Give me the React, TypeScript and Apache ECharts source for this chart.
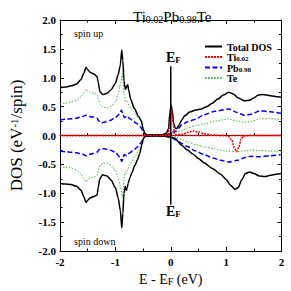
import React, { useEffect, useRef } from 'react';
import * as echarts from 'echarts';

// [E - EF (eV), DOS]
const totalUp = [[-2,0.83],[-1.9,0.84],[-1.8,0.86],[-1.7,0.89],[-1.62,0.97],[-1.57,1.08],[-1.53,1.18],[-1.5,1.14],[-1.45,1.09],[-1.38,1.06],[-1.33,1.02],[-1.31,0.92],[-1.28,0.76],[-1.23,0.71],[-1.15,0.73],[-1.08,0.79],[-1.0,0.9],[-0.95,1.05],[-0.91,1.22],[-0.885,1.48],[-0.865,1.3],[-0.845,0.95],[-0.82,0.8],[-0.79,0.86],[-0.775,0.88],[-0.76,0.78],[-0.72,0.62],[-0.66,0.47],[-0.58,0.33],[-0.53,0.25],[-0.5,0.12],[-0.47,0.04],[-0.44,0.015],[-0.3,0.01],[-0.15,0.015],[-0.08,0.04],[-0.04,0.12],[-0.015,0.4],[0.005,0.53],[0.025,0.45],[0.05,0.22],[0.08,0.13],[0.11,0.12],[0.15,0.18],[0.2,0.27],[0.25,0.34],[0.35,0.41],[0.45,0.44],[0.55,0.46],[0.65,0.5],[0.75,0.56],[0.85,0.63],[0.95,0.7],[1.05,0.75],[1.13,0.72],[1.22,0.65],[1.33,0.6],[1.42,0.61],[1.5,0.65],[1.58,0.7],[1.66,0.71],[1.8,0.69],[1.94,0.67],[2.0,0.66]];
const teUp = [[-2,0.55],[-1.9,0.56],[-1.8,0.58],[-1.7,0.61],[-1.62,0.67],[-1.57,0.74],[-1.53,0.8],[-1.5,0.77],[-1.45,0.74],[-1.38,0.73],[-1.33,0.71],[-1.31,0.63],[-1.28,0.54],[-1.22,0.49],[-1.15,0.48],[-1.08,0.51],[-1.0,0.58],[-0.95,0.72],[-0.91,0.88],[-0.875,1.07],[-0.86,0.95],[-0.84,0.7],[-0.82,0.6],[-0.79,0.6],[-0.775,0.58],[-0.76,0.53],[-0.72,0.47],[-0.66,0.4],[-0.58,0.3],[-0.53,0.23],[-0.5,0.1],[-0.47,0.03],[-0.44,0.01],[-0.2,0.005],[-0.05,0.02],[0.0,0.03],[0.05,0.04],[0.1,0.05],[0.2,0.09],[0.3,0.13],[0.45,0.17],[0.6,0.2],[0.8,0.25],[1.05,0.29],[1.2,0.25],[1.35,0.23],[1.45,0.24],[1.6,0.29],[1.8,0.29],[2.0,0.28]];
const pbUp = [[-2,0.27],[-1.9,0.28],[-1.8,0.29],[-1.7,0.3],[-1.6,0.33],[-1.53,0.35],[-1.48,0.33],[-1.4,0.32],[-1.33,0.3],[-1.3,0.25],[-1.26,0.22],[-1.2,0.23],[-1.1,0.26],[-1.0,0.31],[-0.95,0.35],[-0.91,0.4],[-0.89,0.44],[-0.86,0.36],[-0.84,0.31],[-0.8,0.33],[-0.78,0.34],[-0.75,0.3],[-0.7,0.27],[-0.62,0.21],[-0.55,0.15],[-0.5,0.08],[-0.47,0.03],[-0.44,0.01],[-0.2,0.005],[-0.05,0.02],[0.0,0.04],[0.05,0.06],[0.1,0.08],[0.2,0.18],[0.3,0.24],[0.45,0.28],[0.6,0.36],[0.8,0.42],[1.05,0.46],[1.2,0.4],[1.33,0.35],[1.45,0.37],[1.62,0.43],[1.8,0.41],[2.0,0.38]];
const tiUp = [[-2,0],[-0.1,0],[-0.05,0.01],[-0.02,0.15],[0.0,0.4],[0.02,0.42],[0.045,0.2],[0.07,0.03],[0.1,0.01],[0.2,0.02],[0.3,0.05],[0.4,0.08],[0.5,0.06],[0.6,0.03],[0.75,0.01],[0.9,0],[2,0]];

const totalDown = [[-2,-0.83],[-1.9,-0.84],[-1.8,-0.85],[-1.7,-0.88],[-1.62,-0.95],[-1.57,-1.06],[-1.53,-1.16],[-1.5,-1.12],[-1.45,-1.08],[-1.38,-1.05],[-1.33,-1.03],[-1.31,-0.9],[-1.28,-0.75],[-1.23,-0.68],[-1.15,-0.7],[-1.08,-0.77],[-1.0,-0.9],[-0.95,-1.08],[-0.91,-1.3],[-0.885,-1.6],[-0.865,-1.35],[-0.845,-1.0],[-0.82,-0.88],[-0.8,-0.95],[-0.785,-0.9],[-0.77,-0.83],[-0.74,-0.74],[-0.7,-0.64],[-0.65,-0.52],[-0.6,-0.42],[-0.56,-0.31],[-0.52,-0.15],[-0.49,-0.04],[-0.46,-0.015],[-0.3,-0.01],[-0.1,-0.015],[0.0,-0.03],[0.1,-0.08],[0.2,-0.17],[0.3,-0.25],[0.4,-0.32],[0.5,-0.4],[0.6,-0.47],[0.75,-0.57],[0.9,-0.67],[1.0,-0.76],[1.08,-0.86],[1.16,-0.93],[1.22,-0.9],[1.28,-0.77],[1.35,-0.66],[1.42,-0.63],[1.5,-0.66],[1.6,-0.7],[1.7,-0.71],[1.8,-0.69],[1.9,-0.67],[2.0,-0.66]];
const teDown = [[-2,-0.54],[-1.9,-0.55],[-1.8,-0.56],[-1.7,-0.6],[-1.62,-0.67],[-1.57,-0.75],[-1.53,-0.8],[-1.5,-0.77],[-1.45,-0.73],[-1.38,-0.71],[-1.33,-0.69],[-1.31,-0.6],[-1.28,-0.52],[-1.22,-0.48],[-1.15,-0.48],[-1.08,-0.52],[-1.0,-0.6],[-0.95,-0.72],[-0.91,-0.88],[-0.875,-1.08],[-0.86,-0.95],[-0.84,-0.72],[-0.82,-0.62],[-0.8,-0.66],[-0.78,-0.6],[-0.74,-0.5],[-0.7,-0.45],[-0.64,-0.35],[-0.58,-0.26],[-0.54,-0.18],[-0.5,-0.06],[-0.47,-0.02],[-0.44,-0.01],[-0.2,-0.005],[0.0,-0.01],[0.1,-0.03],[0.2,-0.07],[0.3,-0.11],[0.45,-0.16],[0.6,-0.2],[0.8,-0.23],[1.0,-0.27],[1.2,-0.28],[1.45,-0.25],[1.6,-0.26],[1.8,-0.27],[2.0,-0.27]];
const pbDown = [[-2,-0.27],[-1.9,-0.28],[-1.8,-0.29],[-1.7,-0.3],[-1.6,-0.32],[-1.53,-0.35],[-1.48,-0.33],[-1.4,-0.31],[-1.33,-0.29],[-1.3,-0.25],[-1.26,-0.23],[-1.2,-0.23],[-1.1,-0.25],[-1.0,-0.29],[-0.95,-0.34],[-0.91,-0.4],[-0.885,-0.45],[-0.86,-0.38],[-0.84,-0.33],[-0.8,-0.35],[-0.78,-0.33],[-0.74,-0.3],[-0.68,-0.26],[-0.6,-0.2],[-0.55,-0.14],[-0.5,-0.07],[-0.47,-0.02],[-0.44,-0.01],[-0.2,-0.01],[-0.05,-0.02],[0.05,-0.04],[0.1,-0.06],[0.2,-0.14],[0.3,-0.19],[0.45,-0.27],[0.6,-0.33],[0.76,-0.39],[0.9,-0.43],[1.05,-0.46],[1.2,-0.43],[1.35,-0.38],[1.45,-0.36],[1.6,-0.37],[1.8,-0.35],[2.0,-0.33]];
const tiDown = [[-2,0],[1.0,0],[1.05,-0.02],[1.1,-0.08],[1.15,-0.22],[1.19,-0.28],[1.23,-0.2],[1.27,-0.06],[1.32,-0.01],[1.4,0],[2,0]];

const fermiLine = [[0,-1.2],[0,1.2]];
const seriesNames = ['Total DOS', 'Ti0.02', 'Pb0.98', 'Te'];
const legendLabels: Record<string, string> = {
  'Total DOS': '{a|Total DOS}',
  'Ti0.02': '{a|Ti}{s|0.02}',
  'Pb0.98': '{a|Pb}{s|0.98}',
  'Te': '{a|Te}',
};

export default function App() {
  const ref = useRef<HTMLDivElement>(null);
  useEffect(() => {
    const chart = echarts.init(ref.current!, null, { renderer: 'svg' });
    const serif = '"Liberation Serif", "Times New Roman", serif';
    const mk = (name: string, data: number[][], color: string, width: number, type: any, z: number) => ({
      name, type: 'line', data, symbol: 'none', showSymbol: false,
      smooth: 0.25, smoothMonotone: 'x',
      lineStyle: { color, width, type }, itemStyle: { color }, z,
      xAxisIndex: 0, yAxisIndex: 0,
    });
    const black = '#000000', red = '#ff0000', blue = '#0000ff', green = '#3cb83c';
    const tickCommon = {
      axisLine: { show: true, onZero: false, lineStyle: { color: '#000', width: 1 } },
      axisTick: { show: true, inside: true, length: 4, lineStyle: { color: '#000', width: 1 } },
      minorTick: { show: true, splitNumber: 2, length: 2.5, lineStyle: { color: '#000', width: 1 } },
      splitLine: { show: false },
    };
    const labelStyle = { color: '#000', fontFamily: serif, fontWeight: 'bold', fontSize: 11 };
    chart.setOption({
      animation: false,
      backgroundColor: '#fff',
      title: {
        text: '{a|Ti}{s|0.02}{a|Pb}{s|0.98}{a|Te}',
        left: 128, top: 1,
        textStyle: {
          fontWeight: 'normal',
          rich: {
            a: { fontFamily: serif, fontWeight: 'normal', fontSize: 15, color: '#000', lineHeight: 18, verticalAlign: 'bottom' },
            s: { fontFamily: serif, fontWeight: 'normal', fontSize: 10, color: '#000', lineHeight: 9, verticalAlign: 'bottom' },
          },
        },
      },
      grid: { left: 50.5, right: 9.5, top: 20, bottom: 31, containLabel: false },
      legend: {
        data: seriesNames, orient: 'vertical', left: 199, top: 37,
        itemWidth: 17, itemHeight: 8, itemGap: 0.5,
        itemStyle: { opacity: 0 },
        formatter: (n: string) => legendLabels[n] || n,
        textStyle: {
          color: '#000',
          rich: {
            a: { fontFamily: serif, fontWeight: 'bold', fontSize: 10, color: '#000', lineHeight: 11, verticalAlign: 'bottom' },
            s: { fontFamily: serif, fontWeight: 'bold', fontSize: 7, color: '#000', lineHeight: 6, verticalAlign: 'bottom' },
          },
        },
      },
      xAxis: [
        {
          type: 'value', min: -2, max: 2, interval: 1, position: 'bottom', ...tickCommon,
          axisLabel: { ...labelStyle, margin: 5 },
          name: '{a|E - E}{s|F}{a| (eV)}', nameLocation: 'middle', nameGap: 19,
          nameTextStyle: {
            rich: {
              a: { fontFamily: serif, fontSize: 14, color: '#000', lineHeight: 16, verticalAlign: 'bottom' },
              s: { fontFamily: serif, fontSize: 10, color: '#000', lineHeight: 8, verticalAlign: 'bottom' },
            },
          },
        },
        { type: 'value', min: -2, max: 2, interval: 1, position: 'top', ...tickCommon, axisLabel: { show: false } },
        {
          type: 'value', min: -2, max: 2, interval: 1, position: 'bottom',
          axisLine: { show: true, onZero: true, lineStyle: { color: '#000', width: 1 } },
          axisTick: { show: true, inside: true, length: 2.5, lineStyle: { color: '#000' } },
          minorTick: { show: true, splitNumber: 2, length: 2.5, lineStyle: { color: '#000' } },
          splitLine: { show: false }, axisLabel: { show: false },
        },
      ],
      yAxis: [
        {
          type: 'value', min: -2, max: 2, interval: 0.5, position: 'left', ...tickCommon,
          axisLabel: { ...labelStyle, margin: 4, formatter: (v: number) => v.toFixed(1) },
          name: '{a|DOS (eV}{p|-1}{a|/spin)}', nameLocation: 'middle', nameGap: 32,
          nameTextStyle: {
            rich: {
              a: { fontFamily: serif, fontSize: 17, color: '#000', lineHeight: 20, verticalAlign: 'top' },
              p: { fontFamily: serif, fontSize: 11, color: '#000', lineHeight: 12, verticalAlign: 'top' },
            },
          },
        },
        { type: 'value', min: -2, max: 2, interval: 0.5, position: 'right', ...tickCommon, axisLabel: { show: false } },
      ],
      series: [
        mk('Te', teUp, green, 1, [1.5, 1.5], 2),
        mk('Te', teDown, green, 1, [1.5, 1.5], 2),
        mk('Pb0.98', pbUp, blue, 1.5, [5, 2.5], 3),
        mk('Pb0.98', pbDown, blue, 1.5, [5, 2.5], 3),
        mk('Total DOS', totalUp, black, 1.5, 'solid', 4),
        mk('Total DOS', totalDown, black, 1.5, 'solid', 4),
        mk('Ti0.02', tiUp, red, 1.5, [2, 1], 5),
        mk('Ti0.02', tiDown, red, 1.5, [2, 1], 5),
        { name: 'EF', type: 'line', data: fermiLine, symbol: 'none', lineStyle: { color: '#000', width: 1.5 }, z: 6 },
      ],
      graphic: [
        { type: 'text', left: 74, top: 28, style: { text: 'spin up', font: `10px ${serif}`, fill: '#000' } },
        { type: 'text', left: 74, top: 236, style: { text: 'spin down', font: `10px ${serif}`, fill: '#000' } },
        {
          type: 'text', left: 166, top: 50,
          style: {
            text: '{a|E}{s|F}', fill: '#000',
            rich: {
              a: { fontFamily: serif, fontWeight: 'bold', fontSize: 14, lineHeight: 16, verticalAlign: 'bottom' },
              s: { fontFamily: serif, fontWeight: 'bold', fontSize: 9, lineHeight: 8, verticalAlign: 'bottom' },
            },
          },
        },
        {
          type: 'text', left: 166, top: 204,
          style: {
            text: '{a|E}{s|F}', fill: '#000',
            rich: {
              a: { fontFamily: serif, fontWeight: 'bold', fontSize: 14, lineHeight: 16, verticalAlign: 'bottom' },
              s: { fontFamily: serif, fontWeight: 'bold', fontSize: 9, lineHeight: 8, verticalAlign: 'bottom' },
            },
          },
        },
      ],
    });
    return () => chart.dispose();
  }, []);
  return <div ref={ref} style={{ position: 'fixed', left: 0, top: 0, width: 291, height: 291 }} />;
}
